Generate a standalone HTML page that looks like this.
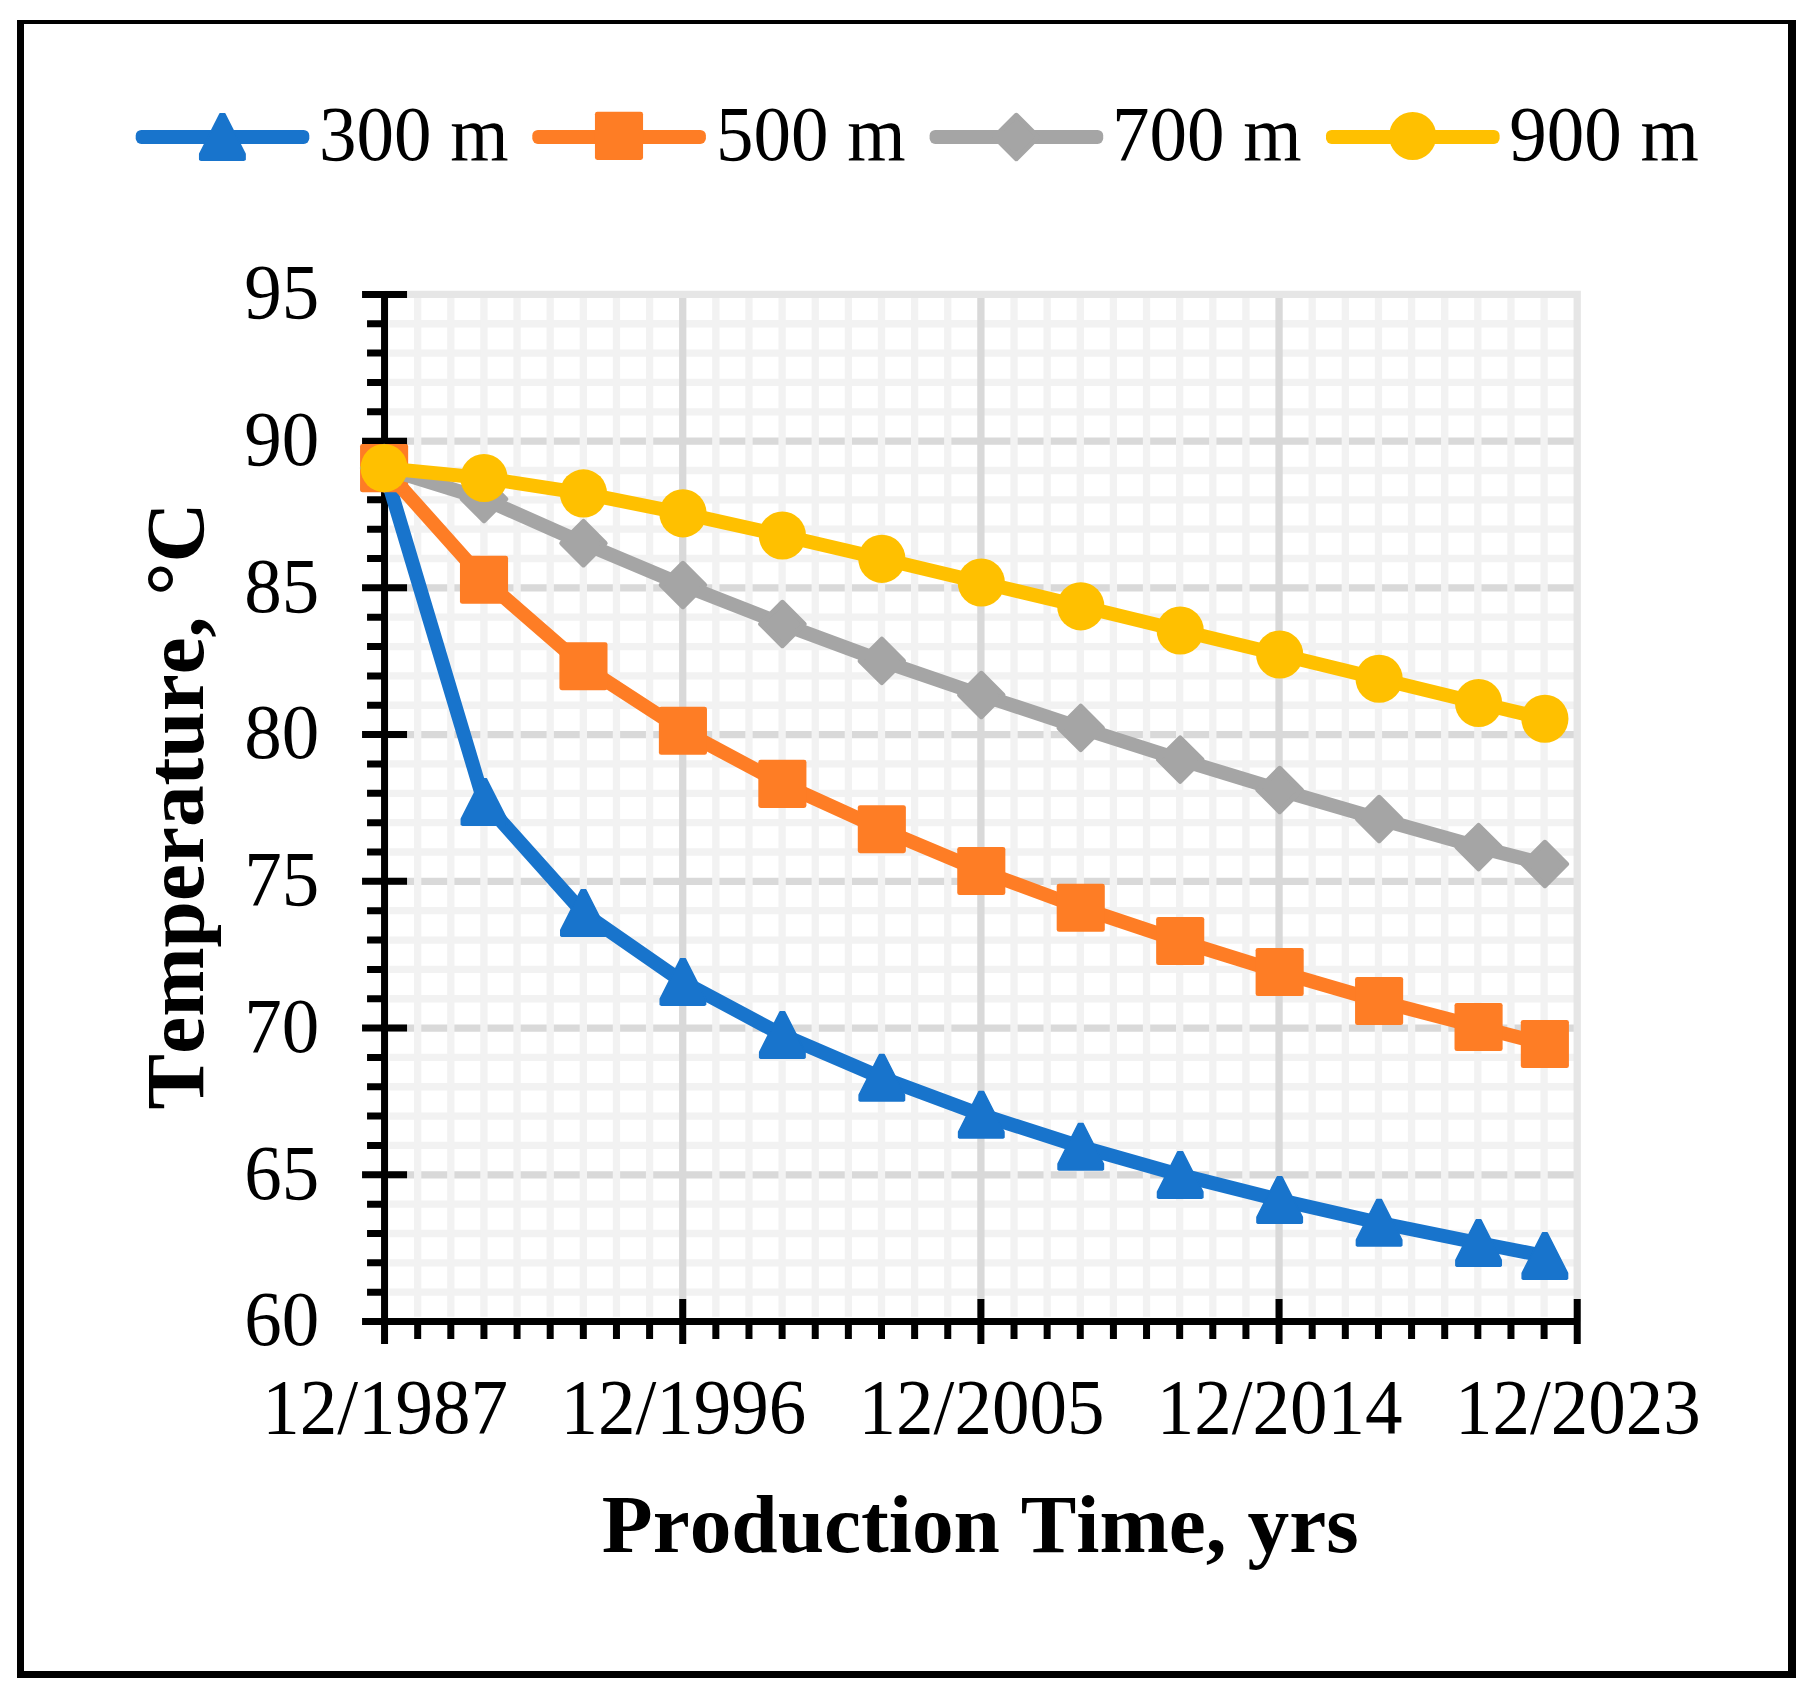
<!DOCTYPE html>
<html lang="en"><head><meta charset="utf-8"><title>Temperature vs Production Time</title>
<style>html,body{margin:0;padding:0;background:#fff}svg{display:block}text{font-family:"Liberation Serif","Times New Roman",serif;fill:#000;font-kerning:none}.t{font-size:75px}.b{font-size:83.33px;font-weight:bold}</style></head><body>
<svg width="1818" height="1700" viewBox="0 0 1818 1700">
<rect x="0" y="0" width="1818" height="1700" fill="#fff"/>
<path d="M17 20H1796V1678H17Z M24 24V1671H1788V24Z" fill="#000" fill-rule="evenodd"/>
<path d="M389.15 1174.81H1577.23M389.15 1028.08H1577.23M389.15 881.34H1577.23M389.15 734.61H1577.23M389.15 587.87H1577.23M389.15 441.13H1577.23" stroke="#D9D9D9" stroke-width="7.3" fill="none"/>
<path d="M389.15 1292.20H1577.23M389.15 1262.85H1577.23M389.15 1233.50H1577.23M389.15 1204.16H1577.23M389.15 1145.46H1577.23M389.15 1116.12H1577.23M389.15 1086.77H1577.23M389.15 1057.42H1577.23M389.15 998.73H1577.23M389.15 969.38H1577.23M389.15 940.03H1577.23M389.15 910.69H1577.23M389.15 851.99H1577.23M389.15 822.65H1577.23M389.15 793.30H1577.23M389.15 763.95H1577.23M389.15 705.26H1577.23M389.15 675.91H1577.23M389.15 646.56H1577.23M389.15 617.22H1577.23M389.15 558.52H1577.23M389.15 529.18H1577.23M389.15 499.83H1577.23M389.15 470.48H1577.23M389.15 411.79H1577.23M389.15 382.44H1577.23M389.15 353.09H1577.23M389.15 323.75H1577.23" stroke="#F2F2F2" stroke-width="7.3" fill="none"/>
<path d="M417.68 294.40V1316.64M450.81 294.40V1316.64M483.94 294.40V1316.64M517.07 294.40V1316.64M550.20 294.40V1316.64M583.33 294.40V1316.64M616.46 294.40V1316.64M649.59 294.40V1316.64M715.85 294.40V1316.64M748.98 294.40V1316.64M782.11 294.40V1316.64M815.24 294.40V1316.64M848.37 294.40V1316.64M881.50 294.40V1316.64M914.63 294.40V1316.64M947.76 294.40V1316.64M1014.02 294.40V1316.64M1047.15 294.40V1316.64M1080.28 294.40V1316.64M1113.41 294.40V1316.64M1146.54 294.40V1316.64M1179.67 294.40V1316.64M1212.80 294.40V1316.64M1245.93 294.40V1316.64M1312.19 294.40V1316.64M1345.32 294.40V1316.64M1378.45 294.40V1316.64M1411.58 294.40V1316.64M1444.71 294.40V1316.64M1477.84 294.40V1316.64M1510.97 294.40V1316.64M1544.10 294.40V1316.64" stroke="#F2F2F2" stroke-width="7.3" fill="none"/>
<path d="M682.72 294.40V1316.64M980.89 294.40V1316.64M1279.06 294.40V1316.64" stroke="#D9D9D9" stroke-width="7.3" fill="none"/>
<path d="M384.55 294.40H1577.23V1321.55" stroke="#E6E6E6" stroke-width="7.3" fill="none" stroke-linejoin="miter"/>
<path d="M384.55 290.90V1344.05M362.05 1321.55H1580.73M362.05 1321.55H407.05M367.05 1292.20H384.55M367.05 1262.85H384.55M367.05 1233.50H384.55M367.05 1204.16H384.55M362.05 1174.81H407.05M367.05 1145.46H384.55M367.05 1116.12H384.55M367.05 1086.77H384.55M367.05 1057.42H384.55M362.05 1028.08H407.05M367.05 998.73H384.55M367.05 969.38H384.55M367.05 940.03H384.55M367.05 910.69H384.55M362.05 881.34H407.05M367.05 851.99H384.55M367.05 822.65H384.55M367.05 793.30H384.55M367.05 763.95H384.55M362.05 734.61H407.05M367.05 705.26H384.55M367.05 675.91H384.55M367.05 646.56H384.55M367.05 617.22H384.55M362.05 587.87H407.05M367.05 558.52H384.55M367.05 529.18H384.55M367.05 499.83H384.55M367.05 470.48H384.55M362.05 441.13H407.05M367.05 411.79H384.55M367.05 382.44H384.55M367.05 353.09H384.55M367.05 323.75H384.55M362.05 294.40H407.05M384.55 1299.05V1344.05M417.68 1321.55V1339.05M450.81 1321.55V1339.05M483.94 1321.55V1339.05M517.07 1321.55V1339.05M550.20 1321.55V1339.05M583.33 1321.55V1339.05M616.46 1321.55V1339.05M649.59 1321.55V1339.05M682.72 1299.05V1344.05M715.85 1321.55V1339.05M748.98 1321.55V1339.05M782.11 1321.55V1339.05M815.24 1321.55V1339.05M848.37 1321.55V1339.05M881.50 1321.55V1339.05M914.63 1321.55V1339.05M947.76 1321.55V1339.05M980.89 1299.05V1344.05M1014.02 1321.55V1339.05M1047.15 1321.55V1339.05M1080.28 1321.55V1339.05M1113.41 1321.55V1339.05M1146.54 1321.55V1339.05M1179.67 1321.55V1339.05M1212.80 1321.55V1339.05M1245.93 1321.55V1339.05M1279.06 1299.05V1344.05M1312.19 1321.55V1339.05M1345.32 1321.55V1339.05M1378.45 1321.55V1339.05M1411.58 1321.55V1339.05M1444.71 1321.55V1339.05M1477.84 1321.55V1339.05M1510.97 1321.55V1339.05M1544.10 1321.55V1339.05M1577.23 1299.05V1344.05" stroke="#000" stroke-width="7" fill="none"/>
<g><polyline points="384.10,468.10 484.01,801.90 583.46,913.00 682.92,981.90 782.37,1035.00 881.83,1077.75 981.29,1114.75 1080.74,1146.75 1180.20,1174.90 1279.65,1200.00 1379.11,1222.75 1478.57,1243.00 1544.87,1256.00" fill="none" stroke="#1874CC" stroke-width="14" stroke-linejoin="round" stroke-linecap="round"/><polygon points="381.80,444.85 386.40,444.85 406.80,485.10 406.80,490.70 405.65,491.35 362.55,491.35 361.40,490.70 361.40,485.10" fill="#1874CC" stroke="#1874CC" stroke-width="1.5" stroke-linejoin="round"/><polygon points="481.71,778.65 486.31,778.65 506.71,818.90 506.71,824.50 505.56,825.15 462.46,825.15 461.31,824.50 461.31,818.90" fill="#1874CC" stroke="#1874CC" stroke-width="1.5" stroke-linejoin="round"/><polygon points="581.16,889.75 585.76,889.75 606.16,930.00 606.16,935.60 605.01,936.25 561.91,936.25 560.76,935.60 560.76,930.00" fill="#1874CC" stroke="#1874CC" stroke-width="1.5" stroke-linejoin="round"/><polygon points="680.62,958.65 685.22,958.65 705.62,998.90 705.62,1004.50 704.47,1005.15 661.37,1005.15 660.22,1004.50 660.22,998.90" fill="#1874CC" stroke="#1874CC" stroke-width="1.5" stroke-linejoin="round"/><polygon points="780.07,1011.75 784.67,1011.75 805.07,1052.00 805.07,1057.60 803.92,1058.25 760.82,1058.25 759.67,1057.60 759.67,1052.00" fill="#1874CC" stroke="#1874CC" stroke-width="1.5" stroke-linejoin="round"/><polygon points="879.53,1054.50 884.13,1054.50 904.53,1094.75 904.53,1100.35 903.38,1101.00 860.28,1101.00 859.13,1100.35 859.13,1094.75" fill="#1874CC" stroke="#1874CC" stroke-width="1.5" stroke-linejoin="round"/><polygon points="978.99,1091.50 983.59,1091.50 1003.99,1131.75 1003.99,1137.35 1002.84,1138.00 959.74,1138.00 958.59,1137.35 958.59,1131.75" fill="#1874CC" stroke="#1874CC" stroke-width="1.5" stroke-linejoin="round"/><polygon points="1078.44,1123.50 1083.04,1123.50 1103.44,1163.75 1103.44,1169.35 1102.29,1170.00 1059.19,1170.00 1058.04,1169.35 1058.04,1163.75" fill="#1874CC" stroke="#1874CC" stroke-width="1.5" stroke-linejoin="round"/><polygon points="1177.90,1151.65 1182.50,1151.65 1202.90,1191.90 1202.90,1197.50 1201.75,1198.15 1158.65,1198.15 1157.50,1197.50 1157.50,1191.90" fill="#1874CC" stroke="#1874CC" stroke-width="1.5" stroke-linejoin="round"/><polygon points="1277.35,1176.75 1281.95,1176.75 1302.35,1217.00 1302.35,1222.60 1301.20,1223.25 1258.10,1223.25 1256.95,1222.60 1256.95,1217.00" fill="#1874CC" stroke="#1874CC" stroke-width="1.5" stroke-linejoin="round"/><polygon points="1376.81,1199.50 1381.41,1199.50 1401.81,1239.75 1401.81,1245.35 1400.66,1246.00 1357.56,1246.00 1356.41,1245.35 1356.41,1239.75" fill="#1874CC" stroke="#1874CC" stroke-width="1.5" stroke-linejoin="round"/><polygon points="1476.27,1219.75 1480.87,1219.75 1501.27,1260.00 1501.27,1265.60 1500.12,1266.25 1457.02,1266.25 1455.87,1265.60 1455.87,1260.00" fill="#1874CC" stroke="#1874CC" stroke-width="1.5" stroke-linejoin="round"/><polygon points="1542.57,1232.75 1547.17,1232.75 1567.57,1273.00 1567.57,1278.60 1566.42,1279.25 1523.32,1279.25 1522.17,1278.60 1522.17,1273.00" fill="#1874CC" stroke="#1874CC" stroke-width="1.5" stroke-linejoin="round"/></g>
<g><polyline points="384.10,468.10 484.01,579.80 583.46,666.20 682.92,730.75 782.37,783.90 881.83,829.20 981.29,871.00 1080.74,907.75 1180.20,941.00 1279.65,972.00 1379.11,1001.00 1478.57,1027.00 1544.87,1044.00" fill="none" stroke="#FE7D25" stroke-width="14" stroke-linejoin="round" stroke-linecap="round"/><rect x="360.05" y="444.05" width="48.10" height="48.10" rx="2.4" fill="#FE7D25"/><rect x="459.96" y="555.75" width="48.10" height="48.10" rx="2.4" fill="#FE7D25"/><rect x="559.41" y="642.15" width="48.10" height="48.10" rx="2.4" fill="#FE7D25"/><rect x="658.87" y="706.70" width="48.10" height="48.10" rx="2.4" fill="#FE7D25"/><rect x="758.32" y="759.85" width="48.10" height="48.10" rx="2.4" fill="#FE7D25"/><rect x="857.78" y="805.15" width="48.10" height="48.10" rx="2.4" fill="#FE7D25"/><rect x="957.24" y="846.95" width="48.10" height="48.10" rx="2.4" fill="#FE7D25"/><rect x="1056.69" y="883.70" width="48.10" height="48.10" rx="2.4" fill="#FE7D25"/><rect x="1156.15" y="916.95" width="48.10" height="48.10" rx="2.4" fill="#FE7D25"/><rect x="1255.60" y="947.95" width="48.10" height="48.10" rx="2.4" fill="#FE7D25"/><rect x="1355.06" y="976.95" width="48.10" height="48.10" rx="2.4" fill="#FE7D25"/><rect x="1454.52" y="1002.95" width="48.10" height="48.10" rx="2.4" fill="#FE7D25"/><rect x="1520.82" y="1019.95" width="48.10" height="48.10" rx="2.4" fill="#FE7D25"/></g>
<g><polyline points="384.10,468.10 484.01,499.00 583.46,543.20 682.92,585.00 782.37,624.00 881.83,660.90 981.29,695.00 1080.74,727.90 1180.20,759.60 1279.65,790.00 1379.11,819.00 1478.57,847.10 1544.87,864.00" fill="none" stroke="#A5A5A5" stroke-width="14" stroke-linejoin="round" stroke-linecap="round"/><path d="M384.10 446.40L405.80 468.10L384.10 489.80L362.40 468.10Z" fill="#A5A5A5" stroke="#A5A5A5" stroke-width="5" stroke-linejoin="round"/><path d="M484.01 477.30L505.71 499.00L484.01 520.70L462.31 499.00Z" fill="#A5A5A5" stroke="#A5A5A5" stroke-width="5" stroke-linejoin="round"/><path d="M583.46 521.50L605.16 543.20L583.46 564.90L561.76 543.20Z" fill="#A5A5A5" stroke="#A5A5A5" stroke-width="5" stroke-linejoin="round"/><path d="M682.92 563.30L704.62 585.00L682.92 606.70L661.22 585.00Z" fill="#A5A5A5" stroke="#A5A5A5" stroke-width="5" stroke-linejoin="round"/><path d="M782.37 602.30L804.07 624.00L782.37 645.70L760.67 624.00Z" fill="#A5A5A5" stroke="#A5A5A5" stroke-width="5" stroke-linejoin="round"/><path d="M881.83 639.20L903.53 660.90L881.83 682.60L860.13 660.90Z" fill="#A5A5A5" stroke="#A5A5A5" stroke-width="5" stroke-linejoin="round"/><path d="M981.29 673.30L1002.99 695.00L981.29 716.70L959.59 695.00Z" fill="#A5A5A5" stroke="#A5A5A5" stroke-width="5" stroke-linejoin="round"/><path d="M1080.74 706.20L1102.44 727.90L1080.74 749.60L1059.04 727.90Z" fill="#A5A5A5" stroke="#A5A5A5" stroke-width="5" stroke-linejoin="round"/><path d="M1180.20 737.90L1201.90 759.60L1180.20 781.30L1158.50 759.60Z" fill="#A5A5A5" stroke="#A5A5A5" stroke-width="5" stroke-linejoin="round"/><path d="M1279.65 768.30L1301.35 790.00L1279.65 811.70L1257.95 790.00Z" fill="#A5A5A5" stroke="#A5A5A5" stroke-width="5" stroke-linejoin="round"/><path d="M1379.11 797.30L1400.81 819.00L1379.11 840.70L1357.41 819.00Z" fill="#A5A5A5" stroke="#A5A5A5" stroke-width="5" stroke-linejoin="round"/><path d="M1478.57 825.40L1500.27 847.10L1478.57 868.80L1456.87 847.10Z" fill="#A5A5A5" stroke="#A5A5A5" stroke-width="5" stroke-linejoin="round"/><path d="M1544.87 842.30L1566.57 864.00L1544.87 885.70L1523.17 864.00Z" fill="#A5A5A5" stroke="#A5A5A5" stroke-width="5" stroke-linejoin="round"/></g>
<g><polyline points="384.10,468.10 484.01,478.00 583.46,493.40 682.92,513.30 782.37,535.50 881.83,558.80 981.29,582.50 1080.74,606.30 1180.20,630.50 1279.65,654.50 1379.11,678.75 1478.57,703.00 1544.87,718.75" fill="none" stroke="#FFC000" stroke-width="14" stroke-linejoin="round" stroke-linecap="round"/><ellipse cx="384.10" cy="468.10" rx="23.6" ry="24.1" fill="#FFC000"/><ellipse cx="484.01" cy="478.00" rx="23.6" ry="24.1" fill="#FFC000"/><ellipse cx="583.46" cy="493.40" rx="23.6" ry="24.1" fill="#FFC000"/><ellipse cx="682.92" cy="513.30" rx="23.6" ry="24.1" fill="#FFC000"/><ellipse cx="782.37" cy="535.50" rx="23.6" ry="24.1" fill="#FFC000"/><ellipse cx="881.83" cy="558.80" rx="23.6" ry="24.1" fill="#FFC000"/><ellipse cx="981.29" cy="582.50" rx="23.6" ry="24.1" fill="#FFC000"/><ellipse cx="1080.74" cy="606.30" rx="23.6" ry="24.1" fill="#FFC000"/><ellipse cx="1180.20" cy="630.50" rx="23.6" ry="24.1" fill="#FFC000"/><ellipse cx="1279.65" cy="654.50" rx="23.6" ry="24.1" fill="#FFC000"/><ellipse cx="1379.11" cy="678.75" rx="23.6" ry="24.1" fill="#FFC000"/><ellipse cx="1478.57" cy="703.00" rx="23.6" ry="24.1" fill="#FFC000"/><ellipse cx="1544.87" cy="718.75" rx="23.6" ry="24.1" fill="#FFC000"/></g>
<rect x="135.70" y="129.90" width="173.60" height="14" rx="5.6" fill="#1874CC"/>
<polygon points="220.10,113.65 224.70,113.65 245.10,153.90 245.10,159.50 243.95,160.15 200.85,160.15 199.70,159.50 199.70,153.90" fill="#1874CC" stroke="#1874CC" stroke-width="1.5" stroke-linejoin="round"/>
<text class="t" transform="translate(319.00 160.00) scale(1 1.04)" text-anchor="start">300 m</text>
<rect x="532.30" y="129.90" width="173.60" height="14" rx="5.6" fill="#FE7D25"/>
<rect x="594.95" y="111.85" width="48.10" height="48.10" rx="2.4" fill="#FE7D25"/>
<text class="t" transform="translate(716.00 160.00) scale(1 1.04)" text-anchor="start">500 m</text>
<rect x="929.60" y="129.90" width="173.60" height="14" rx="5.6" fill="#A5A5A5"/>
<path d="M1016.30 115.30L1038.00 137.00L1016.30 158.70L994.60 137.00Z" fill="#A5A5A5" stroke="#A5A5A5" stroke-width="5" stroke-linejoin="round"/>
<text class="t" transform="translate(1112.00 160.00) scale(1 1.04)" text-anchor="start">700 m</text>
<rect x="1326.00" y="129.90" width="173.60" height="14" rx="5.6" fill="#FFC000"/>
<ellipse cx="1412.70" cy="136.00" rx="23.6" ry="24.1" fill="#FFC000"/>
<text class="t" transform="translate(1509.30 160.00) scale(1 1.04)" text-anchor="start">900 m</text>
<text class="t" transform="translate(319.20 1345.35) scale(1 1.04)" text-anchor="end">60</text>
<text class="t" transform="translate(319.20 1198.61) scale(1 1.04)" text-anchor="end">65</text>
<text class="t" transform="translate(319.20 1051.88) scale(1 1.04)" text-anchor="end">70</text>
<text class="t" transform="translate(319.20 905.14) scale(1 1.04)" text-anchor="end">75</text>
<text class="t" transform="translate(319.20 758.40) scale(1 1.04)" text-anchor="end">80</text>
<text class="t" transform="translate(319.20 611.67) scale(1 1.04)" text-anchor="end">85</text>
<text class="t" transform="translate(319.20 464.94) scale(1 1.04)" text-anchor="end">90</text>
<text class="t" transform="translate(319.20 318.20) scale(1 1.04)" text-anchor="end">95</text>
<text class="t" transform="translate(385.15 1433.00) scale(1 1.04)" text-anchor="middle">12/1987</text>
<text class="t" transform="translate(683.32 1433.00) scale(1 1.04)" text-anchor="middle">12/1996</text>
<text class="t" transform="translate(981.49 1433.00) scale(1 1.04)" text-anchor="middle">12/2005</text>
<text class="t" transform="translate(1279.66 1433.00) scale(1 1.04)" text-anchor="middle">12/2014</text>
<text class="t" transform="translate(1577.83 1433.00) scale(1 1.04)" text-anchor="middle">12/2023</text>
<text class="b" x="980.2" y="1552" text-anchor="middle">Production Time, yrs</text>
<text class="b" transform="translate(203 805.8) rotate(-90)" text-anchor="middle">Temperature, °C</text>
</svg></body></html>
